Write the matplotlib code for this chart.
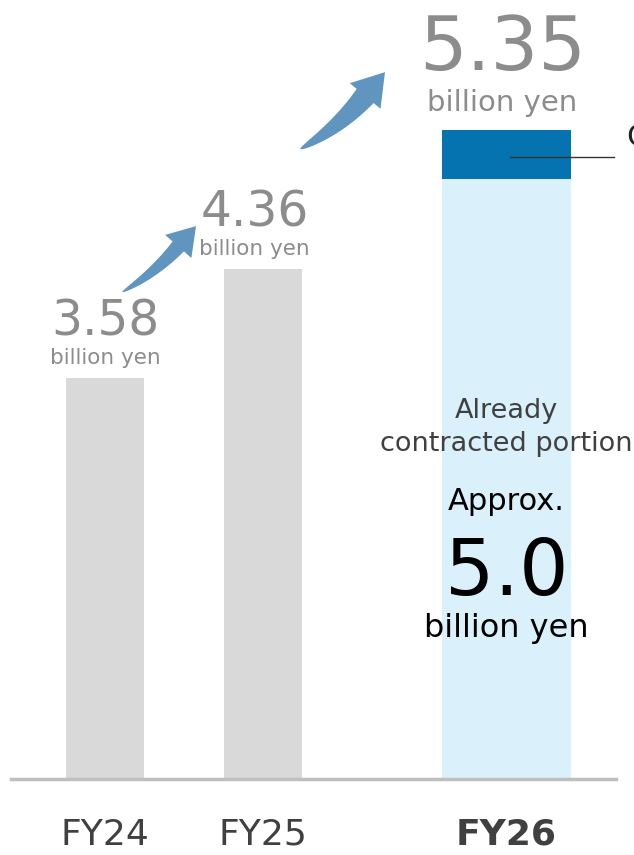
import numpy as np
import matplotlib
matplotlib.use("Agg")
import matplotlib.pyplot as plt
from matplotlib.patches import Polygon

# sales by fiscal year (billion yen)
years = ["FY24", "FY25", "FY26"]
totals = [3.58, 4.36, 5.35]
fy26_contracted = 5.0

GRAY_TXT = "#8c8c8c"
ARROW_C = "#5f95be"

fig = plt.figure(figsize=(6.34, 8.55), dpi=100)
ax = fig.add_axes([11 / 634, 76 / 855, 605 / 634, 779 / 855])

xpos = [0, 1, 2.54]
widths = [0.49, 0.49, 0.82]

# past years in gray, FY26 split into contracted + remaining
ax.bar(xpos[:2], totals[:2], width=widths[:2], color="#d9d9d9", zorder=1)
ax.bar(xpos[2], fy26_contracted, width=widths[2], color="#daf0fb", zorder=1)
ax.bar(xpos[2], totals[2] - fy26_contracted, bottom=fy26_contracted,
       width=widths[2], color="#0573b0", zorder=1)

ax.set_xlim(-0.595, 3.234)
ax.set_ylim(0.71, 6.28)

for s in ["top", "left", "right"]:
    ax.spines[s].set_visible(False)
ax.spines["bottom"].set_color("#bfbfbf")
ax.spines["bottom"].set_linewidth(2.5)
ax.spines["bottom"].set_zorder(3)
ax.set_yticks([])
ax.set_xticks(xpos)
ax.set_xticklabels(years, fontsize=26, color="#404040")
ax.get_xticklabels()[2].set_fontweight("bold")
ax.tick_params(axis="x", length=0, pad=28)

# value labels above bars
label_dx = [0, -6]
for i in range(2):
    ax.annotate(f"{totals[i]:.2f}", (xpos[i], totals[i]), xytext=(label_dx[i], 30),
                textcoords="offset points", ha="center", va="baseline",
                fontsize=35, color=GRAY_TXT)
    ax.annotate("billion yen", (xpos[i], totals[i]), xytext=(label_dx[i], 10),
                textcoords="offset points", ha="center", va="baseline",
                fontsize=15.5, color=GRAY_TXT)
ax.annotate(f"{totals[2]:.2f}", (xpos[2], totals[2]), xytext=(-3, 43),
            textcoords="offset points", ha="center", va="baseline",
            fontsize=54, color=GRAY_TXT)
ax.annotate("billion yen", (xpos[2], totals[2]), xytext=(-3, 14),
            textcoords="offset points", ha="center", va="baseline",
            fontsize=21, color=GRAY_TXT)

# text inside the FY26 bar
ax.text(xpos[2], 3.29, "Already", ha="center", va="baseline",
        fontsize=19.5, color="#404040")
ax.text(xpos[2], 3.054, "contracted portion", ha="center", va="baseline",
        fontsize=19.5, color="#404040")
ax.text(xpos[2], 2.633, "Approx.", ha="center", va="baseline",
        fontsize=22, color="black")
ax.text(xpos[2], 2.025, f"{fy26_contracted:.1f}", ha="center", va="baseline",
        fontsize=56, color="black")
ax.text(xpos[2], 1.725, "billion yen", ha="center", va="baseline",
        fontsize=23, color="black")

# callout for the remaining portion
mid = (fy26_contracted + totals[2]) / 2
ax.plot([2.563, 3.222], [mid - 0.02, mid - 0.02], color="#333333", lw=1,
        clip_on=False, zorder=4)
ax.text(3.297, 5.30, "C", ha="left", va="center", fontsize=22, color="#222222",
        clip_on=False)


def curved_arrow(ax, tail, tip, body_w, head_w, head_l, bend_deg, color):
    """Tapered, slightly bent arrow; sizes in pixels."""
    tr = ax.transData
    p0 = tr.transform(tail)
    t = tr.transform(tip)
    chord = t - p0
    ang = np.arctan2(chord[1], chord[0]) + np.radians(bend_deg)
    u = np.array([np.cos(ang), np.sin(ang)])
    n_head = np.array([-u[1], u[0]])
    base = t - head_l * u
    ctrl = base - 0.5 * np.linalg.norm(base - p0) * u
    s = np.linspace(0, 1, 40)[:, None]
    pts = (1 - s) ** 2 * p0 + 2 * (1 - s) * s * ctrl + s ** 2 * base
    der = 2 * (1 - s) * (ctrl - p0) + 2 * s * (base - ctrl)
    der /= np.linalg.norm(der, axis=1)[:, None]
    nrm = np.column_stack([-der[:, 1], der[:, 0]])
    half = (body_w / 2) * s ** 0.6
    left = pts + nrm * half
    right = pts - nrm * half
    outline = np.vstack([left,
                         base + n_head * head_w / 2,
                         t,
                         base - n_head * head_w / 2,
                         right[::-1]])
    outline = tr.inverted().transform(outline)
    ax.add_patch(Polygon(outline, closed=True, color=color, lw=0,
                         clip_on=False, zorder=5))


curved_arrow(ax, (0.108, 4.191), (0.576, 4.663), 15, 35, 27, 7, ARROW_C)
curved_arrow(ax, (1.234, 5.213), (1.772, 5.764), 22, 40, 31, 8, ARROW_C)

fig.savefig("out.png", dpi=100)
